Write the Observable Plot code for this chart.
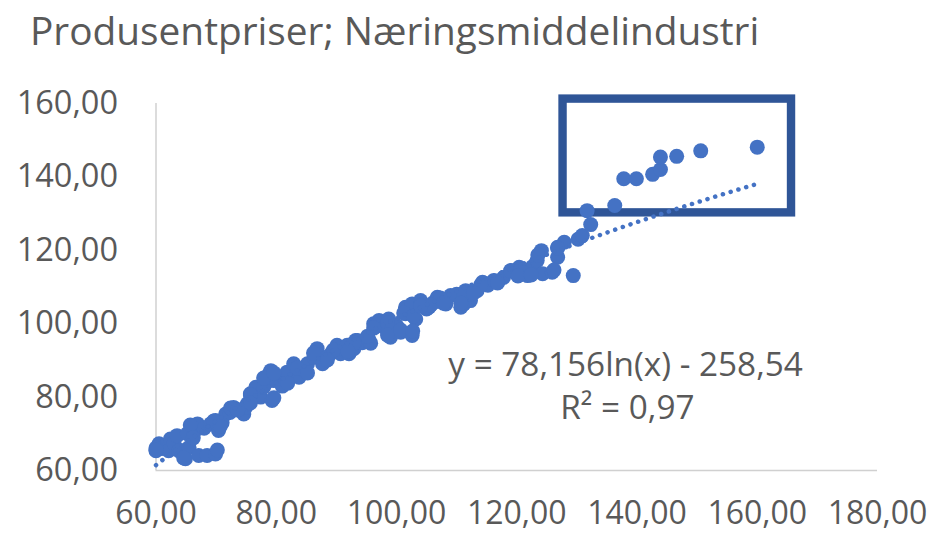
<!DOCTYPE html>
<html><head><meta charset="utf-8">
<script src="https://cdn.jsdelivr.net/npm/d3@7"></script>
<script src="https://cdn.jsdelivr.net/npm/@observablehq/plot@0.6"></script>
<style>
body{margin:0;background:#fff;}
#title{box-sizing:border-box;height:70px;padding-top:11px;padding-left:30px;font-family:"Open Sans",sans-serif;font-size:38.8px;line-height:38.8px;color:#595959;white-space:nowrap;}
</style></head>
<body>
<div id="title">Produsentpriser; Næringsmiddelindustri</div>
<div id="chart"></div>
<script>
// Scatter values (x = index, y = index)
const xs = [60.0,60.5,61.0,61.6,62.1,62.4,63.0,63.5,63.8,64.9,65.2,65.5,66.3,66.9,67.1,68.0,68.5,69.1,69.9,69.9,70.4,71.0,71.6,72.3,72.9,73.8,74.6,74.9,75.2,75.7,76.0,76.6,77.4,77.9,78.8,79.1,79.3,79.6,80.5,81.0,81.8,82.9,83.8,84.5,85.2,86.3,86.8,87.7,88.5,89.2,90.1,90.7,91.5,91.8,92.1,92.9,93.2,93.5,94.3,95.1,95.4,96.2,96.8,97.1,98.0,98.7,99.0,100.0,100.7,101.5,101.5,102.6,102.6,103.2,104.0,105.0,105.4,106.2,106.8,107.5,108.2,109.0,110.0,110.7,111.2,111.5,112.3,112.3,113.4,114.3,115.2,116.2,116.8,117.8,119.0,120.4,121.0,121.8,122.6,123.4,124.1,124.3,125.9,126.8,126.8,127.9,129.4,130.2,130.9,131.7,132.3,136.3,137.8,139.9,142.6,143.9,143.9,146.6,150.6,160.0,
  60.0,65.7,69.6,72.4,75.7,77.9,79.6,83.5,86.2,89.5,92.9,95.7,96.2,98.5,101.2,104.0,106.8,
  60.0,64.6,70.2,66.2,70.7,73.6,75.7,79.6,81.9,85.2,88.5,91.9,95.2,98.5,100.7,102.7,102.8,105.7,
  107.3,111.2,114.0,116.8,119.0,120.6,123.5,126.8,
  104.0,107.8,110.7,112.8,116.8,120.2,122.4,126.2];
const ys = [65.4,67.3,66.0,66.8,65.4,68.6,67.5,69.5,65.4,63.2,70.0,66.3,70.4,72.7,64.1,71.5,64.1,72.7,64.5,73.6,70.9,73.0,75.4,75.8,77.2,76.5,75.4,77.2,78.2,80.9,80.9,82.7,80.0,82.7,86.3,87.2,79.1,84.5,85.5,83.0,86.8,89.1,85.4,87.5,89.1,90.9,93.2,89.1,90.9,92.0,94.1,91.8,92.7,94.1,91.8,93.2,95.4,95.4,94.8,95.4,95.6,100.0,99.5,100.9,99.0,101.3,96.3,99.5,97.7,102.7,104.5,96.8,105.4,101.3,106.3,104.0,104.5,105.8,107.2,106.5,105.4,107.7,108.0,104.5,105.4,109.0,106.3,108.1,109.0,111.3,110.5,111.8,111.3,112.6,114.5,115.4,114.2,113.1,115.5,117.2,119.9,113.6,114.0,118.1,120.8,122.2,113.1,123.0,124.0,130.8,127.0,132.2,139.5,139.5,140.7,142.0,145.4,145.6,147.1,148.1,
  66.1,72.4,73.5,77.0,80.6,85.2,86.6,87.9,92.0,92.8,94.7,94.7,98.8,100.2,102.9,105.1,107.0,
  65.6,63.4,65.6,68.9,72.1,76.5,78.4,79.8,83.8,86.6,90.1,92.6,96.6,96.9,98.3,98.0,102.1,105.1,
  107.0,108.4,110.5,111.6,114.4,114.6,118.7,120.6,
  104.8,105.6,105.6,108.4,111.1,113.0,113.3,114.6];

// Trendline shown in chart: y = a ln(x) + b
const trendA = 78.156, trendB = -258.54;
const trendX = d3.range(60, 160.001, 0.5);

// Highlight box (data coordinates)
const boxX1 = [127.7], boxX2 = [165.7], boxY1 = [130.2], boxY2 = [161.2];

// Annotation
const labelText = ["y = 78,156ln(x) - 258,54", "R² = 0,97"];
const labelX = [138.1, 138.4];
const labelY = [88.6, 76.9];

const xTicks = [60, 80, 100, 120, 140, 160, 180];
const yTicks = [60, 80, 100, 120, 140, 160];

const points = xs.map((x, i) => ({x, y: ys[i]}));
const trend = trendX.map(x => ({x, y: trendA * Math.log(x) + trendB}));
const box = boxX1.map((d, i) => ({x1: d, x2: boxX2[i], y1: boxY1[i], y2: boxY2[i]}));
const labels = labelText.map((t, i) => ({t, x: labelX[i], y: labelY[i]}));
const fmt = d => d.toFixed(2).replace(".", ",");
const grey = "#595959";
const font = "Open Sans";

const chart = Plot.plot({
  width: 934, height: 466,
  marginTop: 33, marginBottom: 66, marginLeft: 155.5, marginRight: 57,
  style: {fontFamily: font, background: "#fff", overflow: "visible"},
  x: {domain: [60, 180]},
  y: {domain: [60, 160]},
  marks: [
    Plot.ruleX([60], {y1: 60, y2: 160, stroke: "#d0d0d0", strokeWidth: 1.5}),
    Plot.ruleY([60], {x1: 60, x2: 180, stroke: "#d0d0d0", strokeWidth: 1.5}),
    Plot.axisX({ticks: xTicks, tickFormat: fmt, tickSize: 0, tickPadding: 31, fontSize: 32, fill: grey, label: null}),
    Plot.axisY({ticks: yTicks, tickFormat: fmt, tickSize: 0, tickPadding: 38, fontSize: 32.5, fill: grey, label: null}),
    Plot.rect(box, {x1: "x1", x2: "x2", y1: "y1", y2: "y2", fill: "none", stroke: "#2F5597", strokeWidth: 8.4}),
    Plot.dot(points, {x: "x", y: "y", r: 7.5, fill: "#4472C4"}),
    Plot.line(trend, {x: "x", y: "y", stroke: "#4472C4", strokeWidth: 4.5, strokeDasharray: "0.1 8", strokeLinecap: "round"}),
    Plot.text(labels, {x: "x", y: "y", text: "t", fontSize: 33.3, fill: grey, textAnchor: "middle"})
  ]
});
document.getElementById("chart").appendChild(chart);
</script>
</body></html>
